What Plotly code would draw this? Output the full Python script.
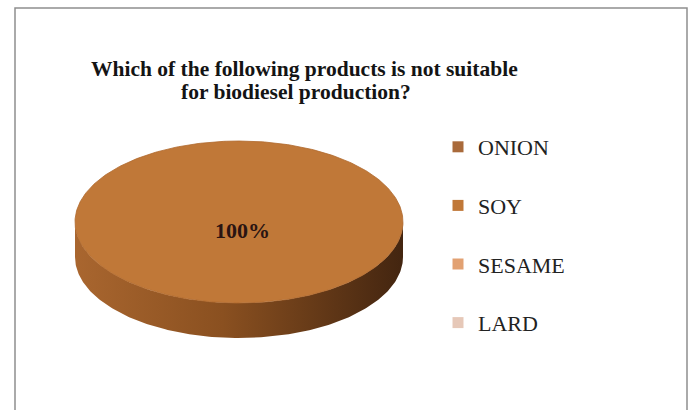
import numpy as np
import plotly.graph_objects as go

# ---- data ----
categories = ["ONION", "SOY", "SESAME", "LARD"]
shares = [0, 100, 0, 0]
colors = ["#A96A3B", "#C07838", "#E2A172", "#E6C8B8"]
title_lines = ["Which of the following products is not suitable",
               "for biodiesel production?"]

# ---- canvas / pie geometry (pixel space) ----
W, H = 693, 410
CX, CY = 239, 222      # centre of the top face
RX, RY = 164, 81       # ellipse radii of the tilted disc
DEPTH = 35             # thickness of the disc
SIDE_SCALE = [[0.0, "#A9662F"], [0.45, "#8A5020"], [1.0, "#432510"]]
LABEL_R = 0.10         # radial position of the value label (fraction of radius)
SERIF = "Liberation Serif, Times New Roman, serif"


def rim(t, drop=0.0):
    """Point on the ellipse rim at angle t (clockwise from 12 o'clock)."""
    return CX + RX * np.sin(t), CY - RY * np.cos(t) + drop


fig = go.Figure()
total = float(sum(shares))
start = 0.0
for name, value, color in zip(categories, shares, colors):
    frac = value / total
    t0, t1 = start, start + 2 * np.pi * frac
    start = t1
    if frac <= 0:
        continue

    # visible side wall: front half of the rim (angles between 90 and 270 deg)
    a, b = max(t0, np.pi / 2), min(t1, 3 * np.pi / 2)
    if b > a:
        ts = np.linspace(a, b, 200)
        xt, yt = rim(ts)
        xb, yb = rim(ts[::-1], DEPTH)
        fig.add_trace(go.Scatter(
            x=np.concatenate([xt, xb, xt[:1]]),
            y=np.concatenate([yt, yb, yt[:1]]),
            mode="lines", fill="toself", line=dict(width=0),
            fillgradient=dict(type="horizontal", colorscale=SIDE_SCALE),
            hoverinfo="skip", showlegend=False))

    # top face
    ts = np.linspace(t0, t1, 400)
    xs, ys = rim(ts)
    if frac < 1:
        xs = np.concatenate([[CX], xs, [CX]])
        ys = np.concatenate([[CY], ys, [CY]])
    fig.add_trace(go.Scatter(
        x=xs, y=ys, mode="lines", fill="toself",
        fillcolor=color, line=dict(color="#B06A2E", width=0.8),
        hoverinfo="skip", showlegend=False))

    # value label
    tm = (t0 + t1) / 2
    lx = CX + LABEL_R * RX * np.sin(tm) + 3
    ly = CY - LABEL_R * RY * np.cos(tm)
    fig.add_annotation(x=lx, y=ly, text=f"<b>{frac:.0%}</b>", showarrow=False,
                       font=dict(family=SERIF, size=22, color="#2A1412"))

# legend entries
for name, color in zip(categories, colors):
    fig.add_trace(go.Scatter(
        x=[None], y=[None], mode="markers", name=name, legendgroup=name,
        marker=dict(symbol="square", size=11, color=color)))

# chart title, one annotation per line
for line, (tx, ty) in zip(title_lines, [(304.5, 68.5), (295.5, 92)]):
    fig.add_annotation(x=tx, y=ty, text=f"<b>{line}</b>", showarrow=False,
                       xanchor="center", yanchor="middle",
                       font=dict(family=SERIF, size=21.5, color="#141414"))

# chart frame
fig.add_shape(type="rect", xref="x", yref="y", x0=15, x1=687, y0=8, y1=H + 5,
              line=dict(color="#8E8E8E", width=1.5), fillcolor="rgba(0,0,0,0)")

fig.update_layout(
    width=W, height=H,
    margin=dict(l=0, r=0, t=0, b=0),
    paper_bgcolor="white", plot_bgcolor="white",
    xaxis=dict(range=[0, W], visible=False, fixedrange=True),
    yaxis=dict(range=[H, 0], visible=False, fixedrange=True),
    legend=dict(x=438 / W, y=1 - 126 / H, xanchor="left", yanchor="top",
                tracegroupgap=27, bgcolor="rgba(0,0,0,0)",
                font=dict(family=SERIF, size=22, color="#222222")),
    showlegend=True,
)

fig.write_html("out.html")
